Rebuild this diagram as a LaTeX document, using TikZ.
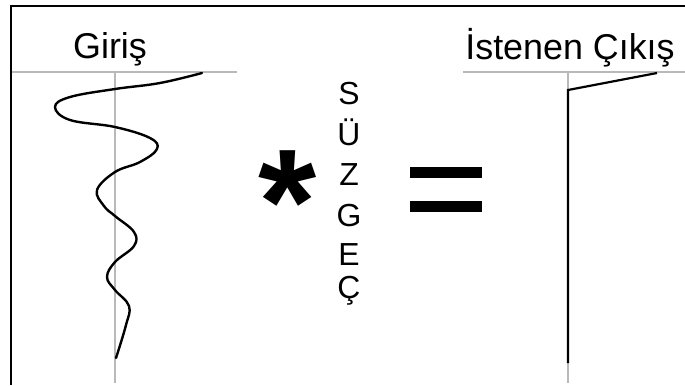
\documentclass[tikz,border=0pt]{standalone}
\usepackage{fontspec}
\setmainfont{Liberation Sans}
\begin{document}
\begin{tikzpicture}[x=1bp,y=-1bp,
  frame/.style={line width=2pt,black},
  axis/.style={line width=1.6pt,gray!55},
  sig/.style={line width=2.4pt,black,line cap=round,line join=round},
  lbl/.style={font=\fontsize{36}{42}\selectfont,inner sep=0pt,anchor=base},
  letter/.style={font=\fontsize{32}{38}\selectfont,inner sep=0pt,anchor=base},
  bar/.style={fill=black,draw=none}]
\useasboundingbox (0,0) rectangle (685,385);
\fill[white] (0,0) rectangle (685,385);
% frame
\coordinate (fbl) at (11,385);
\coordinate (ftl) at (11,6);
\coordinate (ftr) at (685,6);
\draw[frame] (fbl) -- (ftl) -- (ftr);
% left axes
\coordinate (lh1) at (12,72);
\coordinate (lh2) at (237,72);
\coordinate (lv1) at (115,72);
\coordinate (lv2) at (115,383);
\draw[axis] (lh1) -- (lh2);
\draw[axis] (lv1) -- (lv2);
\node[lbl] (giris) at (110,58) {Giriş};
% input wave
\draw[sig] plot[smooth,tension=0.65] coordinates {
 (202,73) (160,83) (115,89) (70,97) (55,107) (70,120) (115,127) (150,138) (157,149)
 (140,162) (115,172) (97,190) (104,206) (115,216) (134,232) (134,246) (115,262)
 (107,277) (115,290) (129,306) (126,325) (116,358)};
% right axes
\coordinate (rh1) at (463,72);
\coordinate (rh2) at (685,72);
\coordinate (rv1) at (568,72);
\coordinate (rv2) at (568,383);
\draw[axis] (rh1) -- (rh2);
\draw[axis] (rv1) -- (rv2);
\node[lbl] (cikis) at (570,59) {İstenen Çıkış};
% desired output
\coordinate (o1) at (657,73);
\coordinate (o2) at (568,90);
\coordinate (o3) at (568,363);
\draw[line width=2.2pt,black] (o1) -- (o2) -- (o3);
% asterisk
\node[inner sep=0pt,font=\fontsize{150}{150}\selectfont\bfseries] (ast) at (288,202) {*};
% vertical word
\node[letter] (l1) at (349,104) {S};
\node[letter] (l2) at (349,145) {Ü};
\node[letter] (l3) at (349,185) {Z};
\node[letter] (l4) at (349,226) {G};
\node[letter] (l5) at (349,265) {E};
\node[letter] (l6) at (349,298) {Ç};
% equals sign
\fill[bar] (410,167) rectangle (482,178);
\fill[bar] (410,201) rectangle (482,212);
\end{tikzpicture}
\end{document}
